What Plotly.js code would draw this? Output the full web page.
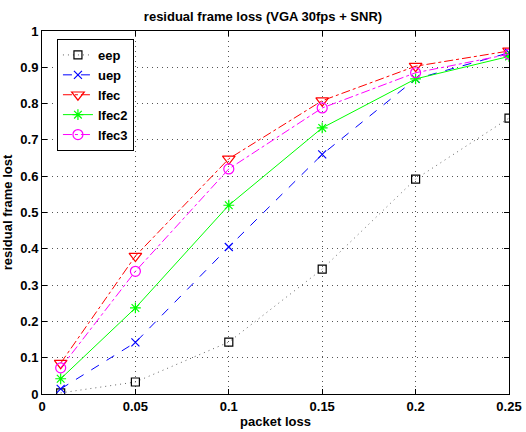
<!DOCTYPE html>
<html><head><meta charset="utf-8">
<script src="https://cdn.plot.ly/plotly-3.0.1.min.js"></script>
<style>body{margin:0;background:#fff}#c{width:526px;height:432px}</style>
</head><body><div id="c"></div>
<script>
const packetLoss = [0.01, 0.05, 0.1, 0.15, 0.2, 0.25];
const eep   = [0.003, 0.033, 0.143, 0.344, 0.592, 0.76];
const uep   = [0.014, 0.142, 0.405, 0.66, 0.868, 0.94];
const lfec  = [0.085, 0.38, 0.648, 0.808, 0.903, 0.945];
const lfec2 = [0.042, 0.237, 0.52, 0.733, 0.868, 0.93];
const lfec3 = [0.072, 0.338, 0.62, 0.788, 0.885, 0.936];
const xTicks = [0, 0.05, 0.1, 0.15, 0.2, 0.25];
const xTickLabels = ['0', '0.05', '0.1', '0.15', '0.2', '0.25'];
const yTicks = [0, 0.1, 0.2, 0.3, 0.4, 0.5, 0.6, 0.7, 0.8, 0.9, 1];
const yTickLabels = ['0', '0.1', '0.2', '0.3', '0.4', '0.5', '0.6', '0.7', '0.8', '0.9', '1'];

function tr(name, y, color, lineColor, dash, symbol, size) {
  return {x: packetLoss, y: y, name: name, type: 'scatter', mode: 'lines+markers',
    line: {color: lineColor, dash: dash, width: 1},
    marker: {symbol: symbol, size: size, color: color, line: {color: color, width: 1.2}}};
}
const data = [
  tr('eep', eep, '#000000', '#666666', '1px,4px', 'square-open', 8),
  tr('uep', uep, '#0000ff', '#0000ff', 'dash', 'x-thin-open', 8),
  tr('lfec', lfec, '#ff0000', '#ff0000', 'dashdot', 'triangle-down-open', 11),
  tr('lfec2', lfec2, '#00ff00', '#00ff00', 'solid', 'asterisk-open', 9),
  tr('lfec3', lfec3, '#ff00ff', '#ff00ff', 'dashdot', 'circle-open', 10)
];
const font = {family: 'Liberation Sans, Arial, sans-serif', size: 13, color: '#000', weight: 'bold'};
const axisCommon = {
  showline: true, mirror: 'ticks', linecolor: '#000', linewidth: 1,
  ticks: 'inside', ticklen: 5, tickcolor: '#000',
  showgrid: true, gridcolor: '#555', griddash: '1px,4px', gridwidth: 1,
  zeroline: false, tickfont: font
};
const layout = {
  width: 526, height: 432,
  margin: {l: 42, r: 17, t: 31, b: 38},
  paper_bgcolor: '#fff', plot_bgcolor: '#fff',
  font: font,
  title: {text: 'residual frame loss (VGA 30fps + SNR)', font: font, x: 0.5, xanchor: 'center', y: 0.962, yanchor: 'middle'},
  xaxis: Object.assign({}, axisCommon, {range: [0, 0.25], tickvals: xTicks, ticktext: xTickLabels,
    title: {text: 'packet loss', font: font, standoff: 4}}),
  yaxis: Object.assign({}, axisCommon, {range: [0, 1], tickvals: yTicks, ticktext: yTickLabels,
    title: {text: 'residual frame lost', font: font, standoff: 6}}),
  showlegend: true,
  legend: {x: 0.032, y: 0.978, xanchor: 'left', yanchor: 'top', bgcolor: '#fff',
    bordercolor: '#000', borderwidth: 1, font: font, tracegroupgap: 0}
};
Plotly.newPlot('c', data, layout, {staticPlot: true});
</script></body></html>
